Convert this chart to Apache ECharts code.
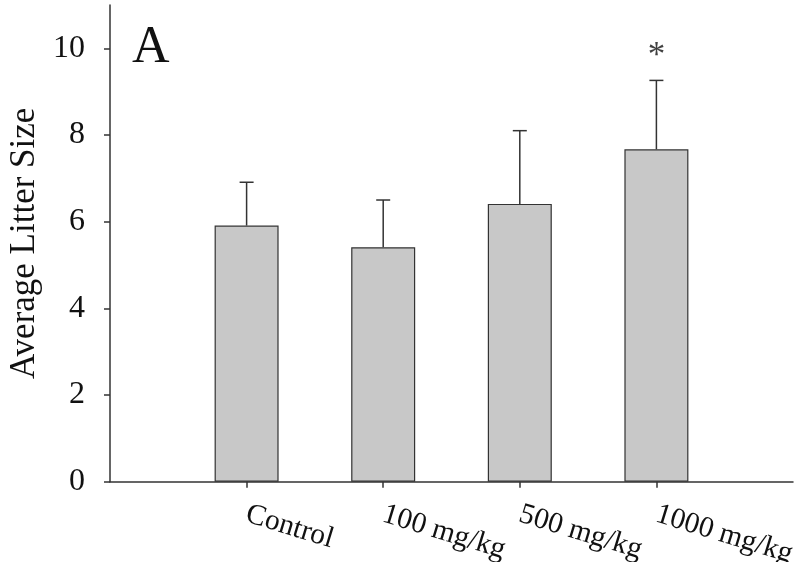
<!DOCTYPE html>
<html>
<head>
<meta charset="utf-8">
<script src="https://cdn.jsdelivr.net/npm/echarts@6/dist/echarts.min.js"></script>
<style>html,body{margin:0;padding:0;background:#fff}#c{width:800px;height:562px}</style>
</head>
<body>
<div id="c"></div>
<script>
var categories = ['', 'Control', '100 mg/kg', '500 mg/kg', '1000 mg/kg', ''];
var groups = ['Control', '100 mg/kg', '500 mg/kg', '1000 mg/kg'];
var meanValues = [5.91, 5.41, 6.41, 7.67];
var errorTops = [6.91, 6.50, 8.10, 9.26];
var yTicks = [0, 2, 4, 6, 8, 10];
var starGroup = '1000 mg/kg';
var starValue = 9.8;

var FONT = 'Liberation Serif';
var TXT = '#111';
var chart = echarts.init(document.getElementById('c'));

var barData = groups.map(function (g, i) { return [g, meanValues[i]]; });
var errData = groups.map(function (g, i) { return [g, meanValues[i], errorTops[i]]; });

chart.setOption({
  animation: false,
  backgroundColor: '#fff',
  grid: { left: 110, right: 7, top: 5, bottom: 80.3, containLabel: false, outerBoundsMode: 'none' },
  xAxis: {
    type: 'category',
    data: categories,
    boundaryGap: false,
    axisLine: { lineStyle: { color: '#333', width: 1.5 } },
    axisTick: {
      show: true, length: 6, inside: false,
      lineStyle: { color: '#333', width: 1.5 },
      interval: function (i, v) { return v !== ''; }
    },
    axisLabel: {
      interval: 0, rotate: -17, margin: 32,
      fontFamily: FONT, fontSize: 29.5, color: TXT
    },
    splitLine: { show: false }
  },
  yAxis: {
    type: 'value',
    min: 0, max: 11, interval: 2,
    name: 'Average Litter Size',
    nameLocation: 'middle',
    nameGap: 68,
    nameTextStyle: { fontFamily: FONT, fontSize: 35, color: TXT },
    axisLine: { show: true, lineStyle: { color: '#333', width: 1.5 } },
    axisTick: { show: true, length: 6, lineStyle: { color: '#333', width: 1.5 },
      customValues: yTicks },
    axisLabel: { margin: 25, fontFamily: FONT, fontSize: 32, color: TXT,
      customValues: yTicks },
    splitLine: { show: false }
  },
  series: [
    {
      type: 'bar',
      data: barData,
      barWidth: 64,
      itemStyle: { color: '#c8c8c8', borderColor: '#333', borderWidth: 1.2 },
      z: 2
    },
    {
      type: 'custom',
      data: errData,
      z: 3,
      renderItem: function (params, api) {
        var base = api.coord([api.value(0), api.value(1)]);
        var top = api.coord([api.value(0), api.value(2)]);
        var hw = 7;
        var st = { stroke: '#333', lineWidth: 1.5 };
        return {
          type: 'group',
          children: [
            { type: 'line', shape: { x1: base[0], y1: base[1], x2: top[0], y2: top[1] }, style: st },
            { type: 'line', shape: { x1: top[0] - hw, y1: top[1], x2: top[0] + hw, y2: top[1] }, style: st }
          ]
        };
      }
    },
    {
      type: 'scatter',
      data: [[starGroup, starValue]],
      symbolSize: 0,
      label: { show: true, position: 'inside', formatter: '*',
        fontFamily: FONT, fontSize: 35, color: TXT },
      z: 4
    }
  ],
  graphic: [
    { type: 'text', left: 132, top: 22,
      style: { text: 'A', fontFamily: FONT, fontSize: 52, fill: TXT } }
  ]
});
</script>
</body>
</html>
